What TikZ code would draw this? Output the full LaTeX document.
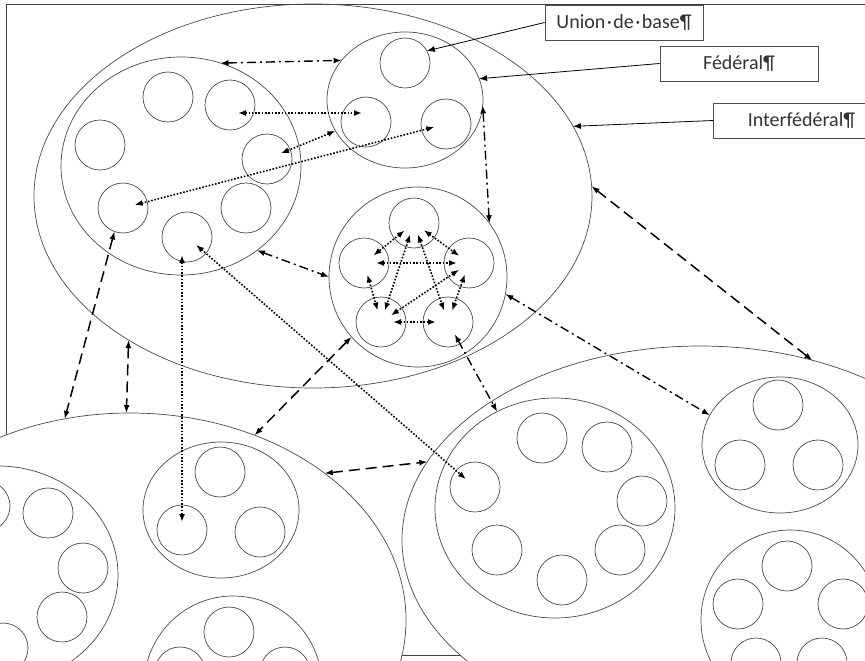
\documentclass[tikz,border=0pt]{standalone}
\usepackage{fontspec}
\setmainfont{Carlito}
\usetikzlibrary{arrows.meta, shapes.geometric, calc}

\definecolor{inkgray}{HTML}{4A4A4A}
\definecolor{txtgray}{HTML}{333333}

\tikzset{
  circ/.style={circle, draw=inkgray, line width=0.7pt, minimum size=50pt, inner sep=0pt, outer sep=0pt},
  fed/.style={ellipse, draw=inkgray, line width=0.7pt, inner sep=0pt, outer sep=0pt},
  inter/.style={ellipse, draw=inkgray, line width=0.7pt, inner sep=0pt, outer sep=0pt},
  lbl/.style={draw=black!70, fill=white, line width=0.8pt, text=txtgray,
    font=\fontsize{20}{23}\selectfont, minimum height=35pt, inner sep=0pt},
  leader/.style={->, line width=0.8pt},
  dotarr/.style={<->, line width=1.6pt, dash pattern=on 1.6pt off 1.7pt},
  dasharr/.style={<->, line width=1.5pt, dash pattern=on 11pt off 6pt},
  dotdasharr/.style={<->, line width=1.4pt, dash pattern=on 9pt off 4pt on 2pt off 4pt},
  tipin/.style={shorten <=12pt, shorten >=12pt}
}

\begin{document}
\begin{tikzpicture}[x=1pt, y=-1pt, >={Latex[length=8pt, width=6pt]}]

\useasboundingbox (0,0) rectangle (865,661);
\clip (0,0) rectangle (865,661);

% Frame
\draw[black!75, line width=1pt] (6,670) -- (6,5) -- (880,5);
\draw[black!75, line width=1pt] (0,655) -- (880,655);

% Interfederal ellipses
\node[inter, minimum width=558pt, minimum height=384pt] (interT) at (313,196) {};
\node[inter, fill=white, minimum width=552pt, minimum height=414pt] (interBL) at (130,620) {};
\node[inter, fill=white, minimum width=596pt, minimum height=388pt] (interBR) at (700,540) {};

% Federal A (seven unions)
\node[fed, minimum width=240pt, minimum height=218pt] (fedA) at (181,166) {};
\node[circ] (a1) at (168,97) {};
\node[circ] (a2) at (230,105) {};
\node[circ] (a3) at (100,145) {};
\node[circ] (a4) at (267,159) {};
\node[circ] (a5) at (123,208) {};
\node[circ] (a6) at (246,208) {};
\node[circ] (a7) at (187,237) {};

% Federal B (three unions)
\node[fed, minimum width=156pt, minimum height=136pt] (fedB) at (405,100) {};
\node[circ] (b1) at (405,63) {};
\node[circ] (b2) at (366,122) {};
\node[circ] (b3) at (446,124) {};

% Federal C (five unions, all linked)
\node[fed, minimum width=178pt, minimum height=180pt] (fedC) at (418,277) {};
\node[circ] (c1) at (414,223) {};
\node[circ] (c2) at (364,263) {};
\node[circ] (c3) at (469,263) {};
\node[circ] (c4) at (381,322) {};
\node[circ] (c5) at (448,322) {};

% Federal D
\node[fed, minimum width=156pt, minimum height=136pt] (fedD) at (221,510) {};
\node[circ] (d1) at (220,472) {};
\node[circ] (d2) at (182,530) {};
\node[circ] (d3) at (260,532) {};

% Federal E (cut by the bottom edge)
\node[fed, minimum width=178pt, minimum height=180pt] (fedE) at (233,686) {};
\node[circ] (e1) at (229,632) {};
\node[circ] (e2) at (180,672) {};
\node[circ] (e3) at (285,672) {};

% Federal F (cut by the left edge)
\node[fed, minimum width=240pt, minimum height=218pt] (fedF) at (-2,575) {};
\node[circ] (f1) at (-15,506) {};
\node[circ] (f2) at (48,513) {};
\node[circ] (f3) at (83,568) {};
\node[circ] (f4) at (62,617) {};
\node[circ] (f5) at (3,648) {};

% Federal G (seven unions)
\node[fed, minimum width=240pt, minimum height=220pt] (fedG) at (555,508) {};
\node[circ] (g1) at (542,438) {};
\node[circ] (g2) at (607,447) {};
\node[circ] (g3) at (642,501) {};
\node[circ] (g4) at (620,550) {};
\node[circ] (g5) at (562,580) {};
\node[circ] (g6) at (497,550) {};
\node[circ] (g7) at (475,487) {};

% Federal H
\node[fed, minimum width=156pt, minimum height=136pt] (fedH) at (780,445) {};
\node[circ] (h1) at (778,405) {};
\node[circ] (h2) at (740,465) {};
\node[circ] (h3) at (818,465) {};

% Federal I (cut by the corner)
\node[fed, minimum width=178pt, minimum height=180pt] (fedI) at (790,620) {};
\node[circ] (i1) at (787,566) {};
\node[circ] (i2) at (738,604) {};
\node[circ] (i3) at (843,604) {};
\node[circ] (i4) at (756,663) {};
\node[circ] (i5) at (822,663) {};

% Dotted links between unions
\draw[dotarr] ($(a2.center)+(8,8)$) -- ($(b2.center)+(-4,-9)$);
\draw[dotarr, shorten <=15pt] (a4.center) -- (fedB.204);
\draw[dotarr, tipin] (a5.center) -- (b3.center);
\draw[dotarr, tipin] (a7.center) -- (g7.center);
\draw[dotarr, shorten <=18pt, shorten >=8pt] (d2 |- a7) -- (d2.center);

% Dotted links inside federal C
\draw[dotarr, tipin] (c1.center) -- (c3.center);
\draw[dotarr, tipin] (c1.center) -- (c2.center);
\draw[dotarr, tipin] (c1.center) -- (c4.center);
\draw[dotarr, tipin] (c1.center) -- (c5.center);
\draw[dotarr, tipin] (c2.center) -- (c3.center);
\draw[dotarr, tipin] (c2.center) -- (c4.center);
\draw[dotarr, tipin] (c3.center) -- (c5.center);
\draw[dotarr, tipin] (c3.center) -- (c4.center);
\draw[dotarr, tipin] (c4.center) -- (c5.center);

% Dash-dot links between federals
\draw[dotdasharr] (fedA.69) -- (fedB.148);
\draw[dotdasharr] (fedB.-4) -- (fedC.37);
\draw[dotdasharr] (fedA.-48) -- (fedC.180);
\draw[dotdasharr, shorten <=14pt] (c5.center) -- (fedG.121);
\draw[dotdasharr] (fedC.-11) -- (fedH.157);

% Dashed links to the interfederals
\draw[dasharr] (a5.250) -- (interBL.108);
\draw[dasharr] (interT.218) -- (interBL.91);
\draw[dasharr] (fedC.222) -- (interBL.56);
\draw[dasharr] (interBL.37) -- (interBR.164);
\draw[dasharr] (interT.2) -- (interBR.58);

% Labels
\node[lbl, minimum width=158pt] (lblUnion) at (624,22.5) {Union\hspace{1.5pt}·\hspace{1.5pt}de\hspace{1.5pt}·\hspace{1.5pt}base¶};
\node[lbl, minimum width=158pt] (lblFed) at (739,63.5) {Fédéral¶};
\node[lbl, minimum width=176pt, anchor=west] (lblInter) at (713,120.5) {Interfédéral¶};

\draw[leader] (lblUnion.west) -- (b1.29);
\draw[leader] (lblFed.west) -- (fedB.16);
\draw[leader] (lblInter.west) -- (interT.15);

\end{tikzpicture}
\end{document}
